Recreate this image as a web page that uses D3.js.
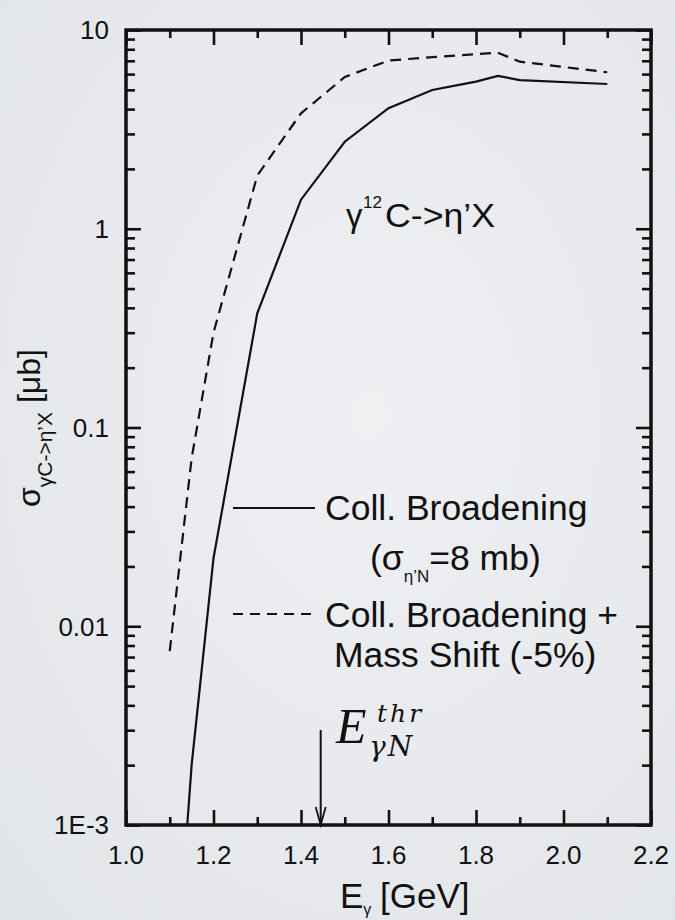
<!DOCTYPE html>
<html>
<head>
<meta charset="utf-8">
<script src="https://cdn.jsdelivr.net/npm/d3@7"></script>
<style>
  html, body { margin: 0; padding: 0; background: #e9ebee; }
  svg { display: block; }
  text { font-family: "Liberation Sans", Arial, Helvetica, sans-serif; fill: #111; }
</style>
</head>
<body>
<svg id="chart" width="675" height="920"></svg>
<script>
// Photon energy grid and cross sections (μb) for γ 12C -> η' X
const energySolid = [1.14, 1.15, 1.2, 1.3, 1.4, 1.5, 1.6, 1.7, 1.8, 1.85, 1.9, 2.1];
const sigmaBroadening = [0.001, 0.002, 0.022, 0.375, 1.40, 2.74, 4.04, 4.99, 5.5, 5.87, 5.6, 5.35];

const energyDashed = [1.1, 1.15, 1.2, 1.3, 1.4, 1.5, 1.6, 1.7, 1.8, 1.85, 1.9, 2.1];
const sigmaBroadeningShift = [0.0075, 0.07, 0.30, 1.85, 3.81, 5.8, 7.02, 7.3, 7.55, 7.69, 6.93, 6.13];

const xTickLabels = ["1.0", "1.2", "1.4", "1.6", "1.8", "2.0", "2.2"];
const xTickValues = [1.0, 1.2, 1.4, 1.6, 1.8, 2.0, 2.2];
const yTickLabels = ["1E-3", "0.01", "0.1", "1", "10"];
const yTickValues = [0.001, 0.01, 0.1, 1, 10];

const thresholdEnergy = 1.445;

const svg = d3.select("#chart");
const plotLeft = 126, plotRight = 651, plotTop = 30, plotBottom = 825;

const x = d3.scaleLinear().domain([1.0, 2.2]).range([plotLeft, plotRight]);
const y = d3.scaleLog().domain([0.001, 10]).range([plotBottom, plotTop]);

// subtle backdrop
const defs = svg.append("defs");
const grad = defs.append("radialGradient").attr("id", "bg").attr("cx", "55%").attr("cy", "45%").attr("r", "75%");
grad.append("stop").attr("offset", "0%").attr("stop-color", "#eef0f2");
grad.append("stop").attr("offset", "100%").attr("stop-color", "#e2e5e9");
svg.append("rect").attr("width", 675).attr("height", 920).attr("fill", "url(#bg)");

defs.append("clipPath").attr("id", "plotClip")
  .append("rect").attr("x", plotLeft).attr("y", plotTop)
  .attr("width", plotRight - plotLeft).attr("height", plotBottom - plotTop);

// tick sets
const xMinor = d3.range(11).map(i => 1.1 + 0.2 * i).filter(v => v < 2.2);
const yMinor = [];
[0.001, 0.01, 0.1, 1].forEach(d => { for (let k = 2; k <= 9; k++) yMinor.push(d * k); });

function tickAxis(axisFn, scale, values, size, tx, ty) {
  const g = svg.append("g").attr("transform", `translate(${tx},${ty})`)
    .call(axisFn(scale).tickValues(values).tickSize(size).tickFormat(""));
  g.select(".domain").remove();
  g.selectAll(".tick line").attr("stroke", "#111").attr("stroke-width", 2.6);
  return g;
}
// inward ticks on all four sides
tickAxis(d3.axisBottom, x, xTickValues, -15, 0, plotBottom);
tickAxis(d3.axisBottom, x, xMinor, -8, 0, plotBottom);
tickAxis(d3.axisTop, x, xTickValues, -15, 0, plotTop);
tickAxis(d3.axisTop, x, xMinor, -8, 0, plotTop);
tickAxis(d3.axisLeft, y, yTickValues, -15, plotLeft, 0);
tickAxis(d3.axisLeft, y, yMinor, -9, plotLeft, 0);
tickAxis(d3.axisRight, y, yTickValues, -15, plotRight, 0);
tickAxis(d3.axisRight, y, yMinor, -9, plotRight, 0);

// frame
svg.append("rect").attr("x", plotLeft).attr("y", plotTop)
  .attr("width", plotRight - plotLeft).attr("height", plotBottom - plotTop)
  .attr("fill", "none").attr("stroke", "#111").attr("stroke-width", 3.5);

// tick labels
svg.append("g").selectAll("text").data(xTickValues).join("text")
  .attr("x", d => x(d)).attr("y", 864).attr("text-anchor", "middle").attr("font-size", 26)
  .text((d, i) => xTickLabels[i]);
svg.append("g").selectAll("text").data(yTickValues).join("text")
  .attr("x", 109).attr("y", d => y(d)).attr("dy", "0.36em").attr("text-anchor", "end").attr("font-size", 26)
  .text((d, i) => yTickLabels[i]);

// curves
const line = d3.line().x(d => x(d[0])).y(d => y(d[1]));
const plot = svg.append("g").attr("clip-path", "url(#plotClip)");
plot.append("path").datum(d3.zip(energySolid, sigmaBroadening))
  .attr("d", line).attr("fill", "none").attr("stroke", "#111").attr("stroke-width", 2.2);
plot.append("path").datum(d3.zip(energyDashed, sigmaBroadeningShift))
  .attr("d", line).attr("fill", "none").attr("stroke", "#111").attr("stroke-width", 2.2)
  .attr("stroke-dasharray", "11,7");

// reaction label
const react = svg.append("text").attr("x", 346).attr("y", 227).attr("font-size", 33);
react.append("tspan").text("γ");
react.append("tspan").attr("x", 363).attr("font-size", 17).attr("dy", -19).text("12");
react.append("tspan").attr("x", 385).attr("dy", 19).attr("textLength", 110)
  .attr("lengthAdjust", "spacingAndGlyphs").text("C->η’X");

// legend
const legendSize = 35.5;
const lg = svg.append("g");
lg.append("line").attr("x1", 233).attr("x2", 315).attr("y1", 508).attr("y2", 508)
  .attr("stroke", "#111").attr("stroke-width", 2.2);
lg.append("text").attr("x", 325).attr("y", 520).attr("font-size", legendSize).text("Coll. Broadening");
const l2 = lg.append("text").attr("x", 370).attr("y", 570).attr("font-size", legendSize);
l2.append("tspan").text("(σ");
l2.append("tspan").attr("font-size", 17).attr("dy", 12).text("η’N");
l2.append("tspan").attr("dy", -12).text("=8 mb)");
lg.append("line").attr("x1", 233).attr("x2", 315).attr("y1", 614).attr("y2", 614)
  .attr("stroke", "#111").attr("stroke-width", 2.2).attr("stroke-dasharray", "10,7");
lg.append("text").attr("x", 325).attr("y", 627).attr("font-size", legendSize).text("Coll. Broadening +");
lg.append("text").attr("x", 334).attr("y", 667).attr("font-size", legendSize).text("Mass Shift (-5%)");

// threshold arrow
const ax = x(thresholdEnergy);
svg.append("line").attr("x1", ax).attr("x2", ax).attr("y1", 730).attr("y2", plotBottom)
  .attr("stroke", "#111").attr("stroke-width", 2);
svg.append("path").attr("d", `M${ax - 5},${plotBottom - 18} L${ax},${plotBottom} L${ax + 5},${plotBottom - 18}`)
  .attr("fill", "none").attr("stroke", "#111").attr("stroke-width", 1.8);

// threshold label E^{thr}_{γN}
svg.append("text").attr("x", 336).attr("y", 743).attr("font-size", 50)
  .style("font-family", "'Liberation Serif', serif").style("font-style", "italic").text("E");
svg.append("text").attr("x", 377).attr("y", 722).attr("font-size", 25).attr("letter-spacing", 3)
  .style("font-family", "'DejaVu Serif', serif").style("font-style", "italic").text("thr");
svg.append("text").attr("x", 369).attr("y", 756).attr("font-size", 28).attr("letter-spacing", 2)
  .style("font-family", "'DejaVu Serif', serif").style("font-style", "italic").text("γN");

// axis titles
const xt = svg.append("text").attr("x", 340).attr("y", 908).attr("font-size", 35);
xt.append("tspan").text("E");
xt.append("tspan").attr("font-size", 16).attr("dy", 7).text("γ");
xt.append("tspan").attr("x", 380).attr("dy", -7).text("[GeV]");

const yt = svg.append("text").attr("transform", "translate(40,507) rotate(-90)").attr("font-size", 32);
yt.append("tspan").text("σ");
yt.append("tspan").attr("font-size", 21).attr("dy", 12).text("γC->η’X");
yt.append("tspan").attr("dy", -12).text(" [μb]");
</script>
</body>
</html>
